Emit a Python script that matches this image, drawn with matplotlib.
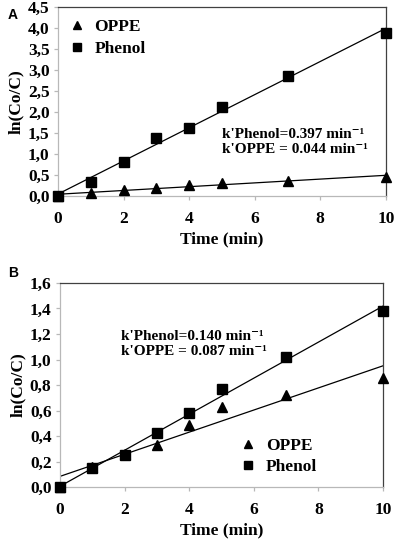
import matplotlib.pyplot as plt
import numpy as np

# time points (min)
time_min = [0, 1, 2, 3, 4, 5, 7, 10]

# panel A
phenol_a = [0.0, 0.34, 0.80, 1.39, 1.62, 2.11, 2.85, 3.89]
oppe_a = [0.0, 0.07, 0.14, 0.19, 0.27, 0.30, 0.35, 0.46]

# panel B
phenol_b = [0.0, 0.15, 0.25, 0.42, 0.58, 0.77, 1.02, 1.38]
oppe_b = [0.0, 0.16, 0.26, 0.33, 0.49, 0.63, 0.72, 0.855]

yticks_a = [0, 0.5, 1.0, 1.5, 2.0, 2.5, 3.0, 3.5, 4.0, 4.5]
yticks_b = [0, 0.2, 0.4, 0.6, 0.8, 1.0, 1.2, 1.4, 1.6]
xticks = [0, 2, 4, 6, 8, 10]

SERIF = ['Liberation Serif', 'DejaVu Serif']
light = '#b8b8b8'
dark = '#404040'
FS = 12.5


def SetupAxes(ax, yticks, ylim):
    ax.set_xlim(0, 10)
    ax.set_ylim(*ylim)
    ax.set_xticks(xticks)
    ax.set_xticklabels([str(t) for t in xticks], fontfamily=SERIF,
                       fontweight='bold', fontsize=FS)
    ax.set_yticks(yticks)
    ax.set_yticklabels([('%.1f' % v).replace('.', ',') for v in yticks],
                       fontfamily=SERIF, fontweight='bold', fontsize=FS)
    for s in ['left', 'bottom']:
        ax.spines[s].set_color(light)
    for s in ['top', 'right']:
        ax.spines[s].set_color(dark)
    for s in ax.spines.values():
        s.set_linewidth(0.9)
    ax.tick_params(axis='both', direction='out', length=3, width=0.9,
                   color=light, pad=3)
    ax.tick_params(axis='x', pad=8)
    ax.set_xlabel('Time (min)', fontfamily=SERIF, fontweight='bold',
                  fontsize=FS, labelpad=3)
    ax.set_ylabel('ln(Co/C)', fontfamily=SERIF, fontweight='bold',
                  fontsize=FS, labelpad=3)


def DrawSeries(ax, oppe, phenol):
    t = np.array(time_min, dtype=float)
    xs = np.array([0, 10])
    for y in (oppe, phenol):
        k, b = np.polyfit(t, y, 1)
        ax.plot(xs, k*xs + b, color='black', lw=0.9, zorder=2)
    ax.plot(time_min, oppe, '^', color='black', ms=7.5, label='OPPE',
            zorder=3, clip_on=False)
    ax.plot(time_min, phenol, 's', color='black', ms=7.5, label='Phenol',
            zorder=4, clip_on=False)


fig = plt.figure(figsize=(3.97, 5.40), dpi=100)

legprops = {'family': SERIF, 'weight': 'bold', 'size': 12.5}

axA = fig.add_axes([0.146, 0.637, 0.826, 0.350])
DrawSeries(axA, oppe_a, phenol_a)
SetupAxes(axA, yticks_a, (0, 4.5))
axA.legend(loc='upper left', frameon=False, handlelength=0.8,
           handletextpad=0.6, labelspacing=0.3, borderaxespad=0.3,
           markerscale=0.85, prop=legprops)
axA.text(0.50, 0.287, "k'Phenol=0.397 min\u207b\u00b9\nk'OPPE = 0.044 min\u207b\u00b9",
         transform=axA.transAxes, fontfamily=SERIF, fontweight='bold',
         fontsize=11, va='center', linespacing=1.25)

axB = fig.add_axes([0.151, 0.098, 0.814, 0.378])
DrawSeries(axB, oppe_b, phenol_b)
SetupAxes(axB, yticks_b, (0, 1.6))
axB.legend(loc='lower left', bbox_to_anchor=(0.54, 0.025), frameon=False,
           handlelength=0.8, handletextpad=0.6, labelspacing=0.3,
           borderaxespad=0, markerscale=0.85, prop=legprops)
axB.text(0.19, 0.70, "k'Phenol=0.140 min\u207b\u00b9\nk'OPPE = 0.087 min\u207b\u00b9",
         transform=axB.transAxes, fontfamily=SERIF, fontweight='bold',
         fontsize=11, va='center', linespacing=1.25)

fig.text(0.02, 0.985, 'A', fontfamily='Liberation Sans', fontweight='bold',
         fontsize=10, va='top')
fig.text(0.02, 0.508, 'B', fontfamily='Liberation Sans', fontweight='bold',
         fontsize=10, va='top')

fig.savefig('out.png', dpi=100)
